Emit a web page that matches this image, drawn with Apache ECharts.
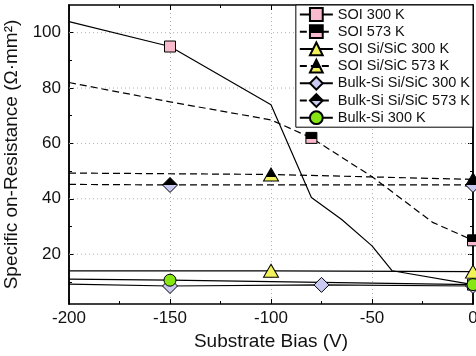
<!DOCTYPE html>
<html>
<head>
<meta charset="utf-8">
<script src="https://cdn.jsdelivr.net/npm/echarts@6/dist/echarts.min.js"></script>
<style>
  html, body { margin: 0; padding: 0; background: #fff; }
  #chart { width: 476px; height: 356px; }
</style>
</head>
<body>
<div id="chart"></div>
<script>
// Axis ticks
const xMin = -200, xMax = 0, xStep = 50;
const yMin = 2, yMax = 110;
const yMajorTicks = [20, 40, 60, 80, 100];
const yMinorTicks = [10, 30, 50, 70, 90];

const seriesNames = [
  'SOI 300 K', 'SOI 573 K', 'SOI Si/SiC 300 K', 'SOI Si/SiC 573 K',
  'Bulk-Si Si/SiC 300 K', 'Bulk-Si Si/SiC 573 K', 'Bulk-Si 300 K'
];

// [bias (V), Ron (Ohm.mm2)] points of each curve
const soi300 = [[-200, 104], [-150, 95], [-100, 74], [-80, 40.5], [-65, 32.5], [-50, 23], [-40, 14], [0, 9]];
const soi573 = [[-200, 82], [-150, 75], [-100, 68.5], [-80, 62], [-50, 48], [-20, 31.5], [0, 25]];
const soiSic300 = [[-200, 14], [-100, 14], [0, 13.7]];
const soiSic573 = [[-200, 49.3], [-100, 48.8], [0, 47]];
const bulkSic300 = [[-200, 9.2], [-150, 8.5], [-75, 8.9], [0, 8.5]];
const bulkSic573 = [[-200, 45.2], [-150, 45], [0, 45]];
const bulk300 = [[-200, 11], [-150, 10.6], [0, 9]];

// x positions that carry a marker
const soi300Marks = [-150, 0];
const soi573Marks = [-80, 0];
const soiSic300Marks = [-100, 0];
const soiSic573Marks = [-100, 0];
const bulkSic300Marks = [-150, -75, 0];
const bulkSic573Marks = [-150, 0];
const bulk300Marks = [-150, 0];

const pink = '#f9bacd';
const yellow = '#f2f25a';
const lavender = '#c9c9f2';
const green = '#86e614';
const font = 'Liberation Sans, Arial, sans-serif';
const gridStyle = { color: '#b0b0b0', type: [1, 3], width: 1 };

// black top, coloured bottom
const halfFill = (c, cut) => new echarts.graphic.LinearGradient(0, 0, 0, 1, [
  { offset: 0, color: '#000' }, { offset: cut, color: '#000' },
  { offset: cut, color: c }, { offset: 1, color: c }
]);

const withMarks = (pts, marks) => pts.map(p => marks.includes(p[0]) ? { value: p } : { value: p, symbol: 'none' });

const makeSeries = (name, pts, marks, symbol, size, fill, dashed) => ({
  name,
  type: 'line',
  z: 3,
  data: withMarks(pts, marks),
  symbol,
  symbolSize: size,
  showAllSymbol: true,
  lineStyle: { color: '#000', width: 1.2, type: dashed ? [7, 4] : 'solid' },
  itemStyle: { color: fill, borderColor: '#000', borderWidth: 1 },
  emphasis: { disabled: true }
});

// horizontal dotted grid lines at the labelled y values
const series = yMajorTicks.map(v => ({
  name: 'grid' + v,
  type: 'line',
  z: 1,
  silent: true,
  symbol: 'none',
  data: [[xMin, v], [xMax, v]],
  lineStyle: gridStyle
}));

series.push(
  makeSeries(seriesNames[0], soi300, soi300Marks, 'rect', 11, pink, false),
  makeSeries(seriesNames[1], soi573, soi573Marks, 'rect', 11, halfFill(pink, 0.6), true),
  makeSeries(seriesNames[2], soiSic300, soiSic300Marks, 'triangle', [15, 13], yellow, false),
  makeSeries(seriesNames[3], soiSic573, soiSic573Marks, 'triangle', [15, 13], halfFill(yellow, 0.65), true),
  makeSeries(seriesNames[4], bulkSic300, bulkSic300Marks, 'diamond', [15, 15], lavender, false),
  makeSeries(seriesNames[5], bulkSic573, bulkSic573Marks, 'diamond', [15, 15], halfFill(lavender, 0.5), true),
  makeSeries(seriesNames[6], bulk300, bulk300Marks, 'circle', 12, green, false)
);

const axisLine = { show: true, onZero: false, lineStyle: { color: '#000', width: 1.5 } };

const xBase = {
  type: 'value', min: xMin, max: xMax, interval: xStep,
  axisLine,
  axisTick: { inside: true, length: 5, lineStyle: { color: '#000' } },
  minorTick: { show: true, splitNumber: 2, length: 3, lineStyle: { color: '#000' } }
};

const yBase = (position, ticks, len) => ({
  type: 'value', min: yMin, max: yMax, position,
  axisLine,
  axisLabel: { show: false },
  axisTick: { inside: true, length: len, customValues: ticks, lineStyle: { color: '#000' } },
  splitLine: { show: false }
});

const chart = echarts.init(document.getElementById('chart'));
chart.setOption({
  animation: false,
  backgroundColor: '#fff',
  grid: { left: 69, right: 3, top: 5, bottom: 52, containLabel: false, outerBoundsMode: 'none' },
  legend: {
    right: 3, top: 5, orient: 'vertical', z: 10,
    padding: [2, 3, 2, 3], itemGap: 2.2,
    itemWidth: 33, itemHeight: 16,
    backgroundColor: '#fff', borderColor: '#000', borderWidth: 1,
    textStyle: { fontFamily: font, fontSize: 14.5, color: '#111' },
    data: seriesNames
  },
  xAxis: [
    Object.assign({}, xBase, {
      position: 'bottom',
      name: 'Substrate Bias (V)', nameLocation: 'middle', nameGap: 26,
      nameTextStyle: { fontFamily: font, fontSize: 19, color: '#111' },
      axisLabel: { margin: 6, fontFamily: font, fontSize: 17, color: '#111' },
      splitLine: { show: true, lineStyle: gridStyle }
    }),
    Object.assign({}, xBase, { position: 'top', axisLabel: { show: false }, splitLine: { show: false } })
  ],
  yAxis: [
    Object.assign(yBase('left', yMajorTicks, 5), {
      name: 'Specific on-Resistance (Ω·mm²)', nameLocation: 'middle', nameGap: 41,
      nameTextStyle: { fontFamily: font, fontSize: 19, color: '#111' },
      axisLabel: { show: true, customValues: yMajorTicks, margin: 8, fontFamily: font, fontSize: 17, color: '#111' }
    }),
    yBase('left', yMinorTicks, 3),
    yBase('right', yMajorTicks, 5),
    yBase('right', yMinorTicks, 3)
  ],
  series
});
</script>
</body>
</html>
